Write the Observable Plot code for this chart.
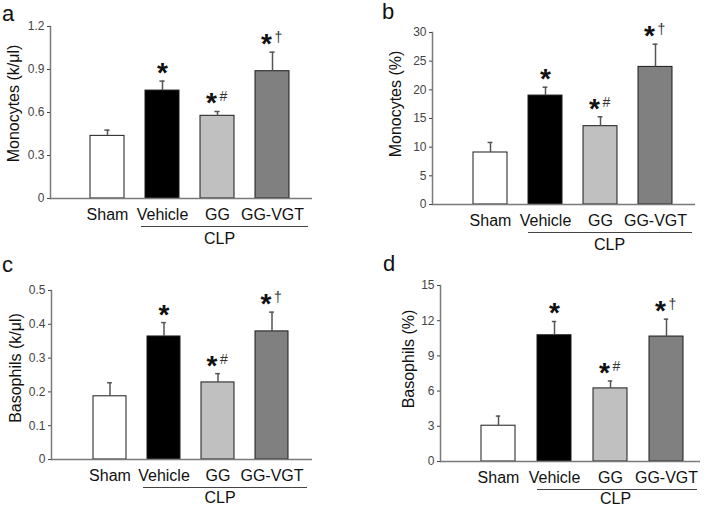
<!DOCTYPE html>
<html>
<head>
<meta charset="utf-8">
<script src="https://cdn.jsdelivr.net/npm/d3@7"></script>
<script src="https://cdn.jsdelivr.net/npm/@observablehq/plot@0.6"></script>
<style>
  html, body { margin: 0; padding: 0; background: #ffffff; }
  #root { position: relative; width: 709px; height: 508px; overflow: hidden; font-family: Arial, "Liberation Sans", sans-serif; }
  .panel { position: absolute; }
  .letter { position: absolute; font-size: 22px; line-height: 1; color: #111; font-family: Arial, "Liberation Sans", sans-serif; }
</style>
</head>
<body>
<div id="root"></div>
<script>
// ---- data ----
const categories = ["Sham", "Vehicle", "GG", "GG-VGT"];
const barFills = ["#ffffff", "#000000", "#c0c0c0", "#808080"];
const stars = ["", "*", "*", "*"];
const supers = ["", "", "#", "†"];
const groupLabel = "CLP";
const groupMembers = ["Vehicle", "GG", "GG-VGT"];

const monoAbsMean = [0.437, 0.753, 0.577, 0.888];
const monoAbsSem = [0.040, 0.066, 0.030, 0.133];
const monoAbsTicks = [0, 0.3, 0.6, 0.9, 1.2];

const monoPctMean = [9.07, 19.0, 13.66, 24.0];
const monoPctSem = [1.75, 1.45, 1.64, 3.96];
const monoPctTicks = [0, 5, 10, 15, 20, 25, 30];

const basoAbsMean = [0.187, 0.364, 0.228, 0.379];
const basoAbsSem = [0.040, 0.041, 0.026, 0.057];
const basoAbsTicks = [0, 0.1, 0.2, 0.3, 0.4, 0.5];

const basoPctMean = [3.05, 10.76, 6.23, 10.65];
const basoPctSem = [0.82, 1.17, 0.63, 1.48];
const basoPctTicks = [0, 3, 6, 9, 12, 15];

const panelLetters = ["a", "b", "c", "d"];
const yLabels = ["Monocytes (k/\u03bcl)", "Monocytes (%)", "Basophils (k/\u03bcl)", "Basophils (%)"];

// ---- layout (pixels) ----
const layouts = [
  {left: 0, top: 0, width: 355, height: 252, mL: 50, mR: 43, mT: 26, mB: 54, xr: [89, 289], lDx: -37, lDy: -9, cL: -4, cR: -19, cDx: 2, cDy: 34, letter: [2, 3]},
  {left: 355, top: 0, width: 354, height: 252, mL: 77, mR: 14, mT: 32, mB: 48, xr: [116, 318], lDx: -37, lDy: -14.5, cL: 0, cR: -20, cDx: 9, cDy: 34, letter: [27, 1]},
  {left: 0, top: 250, width: 355, height: 258, mL: 51, mR: 43, mT: 40, mB: 49, xr: [92, 289], lDx: -36, lDy: -7, cL: -4, cR: -19, cDx: 2, cDy: 32, letter: [2, 4]},
  {left: 355, top: 250, width: 354, height: 258, mL: 85, mR: 9, mT: 35, mB: 47, xr: [125, 330], lDx: -32, lDy: -14.5, cL: 0, cR: -14, cDx: 5, cDy: 31, letter: [28, 3]}
];

const series = [
  {mean: monoAbsMean, sem: monoAbsSem, ticks: monoAbsTicks},
  {mean: monoPctMean, sem: monoPctSem, ticks: monoPctTicks},
  {mean: basoAbsMean, sem: basoAbsSem, ticks: basoAbsTicks},
  {mean: basoPctMean, sem: basoPctSem, ticks: basoPctTicks}
];

const font = "Arial, 'Liberation Sans', sans-serif";
const root = document.getElementById("root");

series.forEach((s, k) => {
  const L = layouts[k];
  const rows = categories.map((c, i) => ({cat: c, mean: s.mean[i], sem: s.sem[i], top: s.mean[i] + s.sem[i], fill: barFills[i], star: stars[i], sup: supers[i]}));
  const group = [{from: groupMembers[0], mid: groupMembers[1], to: groupMembers[groupMembers.length - 1], label: groupLabel}];
  const yMax = s.ticks[s.ticks.length - 1];
  const bw = (L.xr[1] - L.xr[0]) / (categories.length - 0.39) * 0.61;
  const capInset = (bw - 5) / 2;

  const chart = Plot.plot({
    width: L.width,
    height: L.height,
    marginLeft: L.mL,
    marginRight: L.mR,
    marginTop: L.mT,
    marginBottom: L.mB,
    style: {fontFamily: font, background: "transparent", overflow: "visible", color: "#222"},
    x: {type: "band", domain: categories, range: L.xr, paddingInner: 0.39, paddingOuter: 0, axis: null},
    y: {domain: [0, yMax], axis: null},
    color: {type: "identity"},
    marks: [
      Plot.barY(rows, {x: "cat", y: "mean", fill: "fill", stroke: "#1a1a1a", strokeWidth: 1}),
      Plot.ruleX(rows, {x: "cat", y1: "mean", y2: "top", stroke: "#555", strokeWidth: 1.5}),
      Plot.tickY(rows, {x: "cat", y: "top", stroke: "#555", strokeWidth: 1.5, insetLeft: capInset, insetRight: capInset}),
      Plot.ruleY([0], {stroke: "#7a7a7a", strokeWidth: 1.5}),
      Plot.frame({anchor: "left", stroke: "#7a7a7a", strokeWidth: 1.5}),
      Plot.axisY({ticks: s.ticks, tickFormat: d => String(d), tickSize: 3, tickPadding: 3, fontSize: 12, color: "#444", label: null}),
      Plot.axisX({tickSize: 0, tickPadding: 10, fontSize: 16, color: "#111", label: null}),
      Plot.text([yLabels[k]], {frameAnchor: "left", textAnchor: "middle", text: d => d, rotate: -90, dx: L.lDx, dy: L.lDy, fontSize: 16, fill: "#111"}),
      Plot.ruleY(group, {x1: "from", x2: "to", y: 0, dy: 28, insetLeft: L.cL, insetRight: L.cR, stroke: "#444", strokeWidth: 1}),
      Plot.text(group, {x: "mid", y: 0, text: "label", dy: L.cDy, dx: L.cDx, lineAnchor: "top", fontSize: 16, fill: "#111"}),
      Plot.text(rows.filter(d => d.star && !d.sup), {x: "cat", y: "top", text: "star", dy: -8, fontSize: 28, fontWeight: "bold", fill: "#111"}),
      Plot.text(rows.filter(d => d.star && d.sup), {x: "cat", y: "top", text: "star", dx: -6, dy: -8, fontSize: 28, fontWeight: "bold", fill: "#111"}),
      Plot.text(rows.filter(d => d.sup), {x: "cat", y: "top", text: "sup", dx: 6, dy: -14.5, fontSize: 14, fill: "#333"})
    ]
  });

  const div = document.createElement("div");
  div.className = "panel";
  div.style.left = L.left + "px";
  div.style.top = L.top + "px";
  div.appendChild(chart);
  root.appendChild(div);

  const letter = document.createElement("div");
  letter.className = "letter";
  letter.textContent = panelLetters[k];
  letter.style.left = (L.left + L.letter[0]) + "px";
  letter.style.top = (L.top + L.letter[1]) + "px";
  root.appendChild(letter);
});
</script>
</body>
</html>
